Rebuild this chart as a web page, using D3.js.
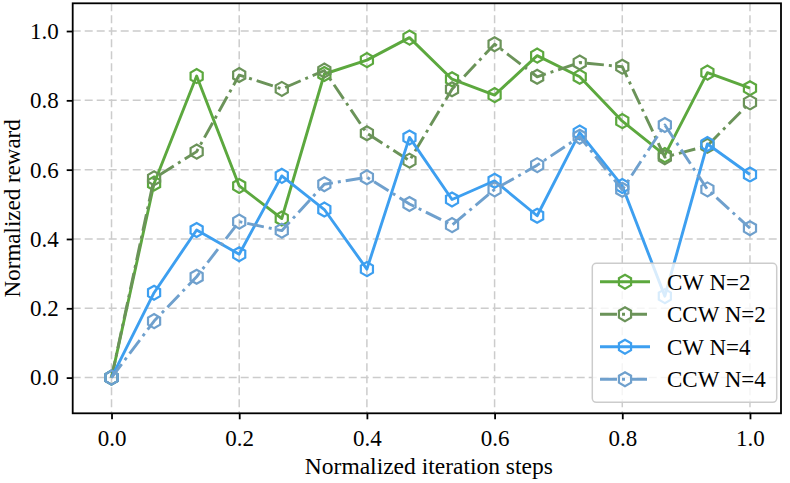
<!DOCTYPE html>
<html>
<head>
<meta charset="utf-8">
<script src="https://cdn.jsdelivr.net/npm/d3@7"></script>
<style>
  body { margin: 0; background: white; }
  text { font-family: "Liberation Serif", "Times New Roman", serif; }
</style>
</head>
<body>
<div id="viz-container"></div>
<script>
// data (16 steps, 0..1)
let steps = d3.range(16).map(function(i){ return i/15; });

let cwN2  = [0, 0.560, 0.870, 0.553, 0.459, 0.876, 0.916, 0.981, 0.861, 0.815, 0.929, 0.868, 0.740, 0.642, 0.880, 0.835];
let ccwN2 = [0, 0.575, 0.652, 0.873, 0.833, 0.886, 0.705, 0.626, 0.832, 0.962, 0.868, 0.909, 0.897, 0.636, 0.669, 0.794];
let cwN4  = [0, 0.245, 0.426, 0.356, 0.582, 0.485, 0.313, 0.693, 0.514, 0.568, 0.467, 0.707, 0.553, 0.235, 0.674, 0.586];
let ccwN4 = [0, 0.163, 0.291, 0.450, 0.424, 0.558, 0.578, 0.501, 0.440, 0.543, 0.613, 0.695, 0.542, 0.729, 0.543, 0.431];

let seriesNames  = ['CW N=2', 'CCW N=2', 'CW N=4', 'CCW N=4'];
let seriesValues = [cwN2, ccwN2, cwN4, ccwN4];
let seriesColors = ['#5ca83e', '#6b9359', '#3d9ff0', '#6fa0cd'];
let seriesDash   = ['none', '17,5,3,5', 'none', '17,5,3,5'];

let xTicks = [0, 0.2, 0.4, 0.6, 0.8, 1.0];
let yTicks = [0, 0.2, 0.4, 0.6, 0.8, 1.0];

let w = 790, h = 483;
let plotLeft = 72.7, plotRight = 781, plotTop = 3.3, plotBottom = 413.3;

let viz = d3.select('#viz-container')
  .append('svg')
    .attr('width', w)
    .attr('height', h)
;

let x = d3.scaleLinear().domain([-0.0608, 1.0486]).range([plotLeft, plotRight]);
let y = d3.scaleLinear().domain([-0.103, 1.08]).range([plotBottom, plotTop]);

// grid
viz.selectAll('.vgrid').data(xTicks).enter()
  .append('line')
    .attr('x1', x).attr('x2', x)
    .attr('y1', plotTop).attr('y2', plotBottom)
    .attr('stroke', '#cccccc')
    .attr('stroke-width', 1.5)
    .attr('stroke-dasharray', '8,4')
;
viz.selectAll('.hgrid').data(yTicks).enter()
  .append('line')
    .attr('x1', plotLeft).attr('x2', plotRight)
    .attr('y1', y).attr('y2', y)
    .attr('stroke', '#cccccc')
    .attr('stroke-width', 1.5)
    .attr('stroke-dasharray', '8,4')
;

// axes
let xAxis = d3.axisBottom(x).tickValues(xTicks).tickFormat(d3.format('.1f')).tickSizeOuter(0).tickSize(6).tickPadding(10);
let yAxis = d3.axisLeft(y).tickValues(yTicks).tickFormat(d3.format('.1f')).tickSizeOuter(0).tickSize(6).tickPadding(8);

let gx = viz.append('g').attr('transform', 'translate(0,' + plotBottom + ')').call(xAxis);
let gy = viz.append('g').attr('transform', 'translate(' + plotLeft + ',0)').call(yAxis);

[gx, gy].forEach(function(g){
  g.select('.domain').remove();
  g.selectAll('.tick line').attr('stroke', 'black').attr('stroke-width', 1.8);
  g.selectAll('.tick text')
    .attr('font-family', '"Liberation Serif", serif')
    .attr('font-size', 23)
    .attr('fill', 'black');
});

// hexagon marker, pointy top
let hexPts = d3.range(6).map(function(k){
  let a = Math.PI/2 + k*Math.PI/3;
  return [7*Math.cos(a), 7*Math.sin(a)];
});
let hexPath = 'M' + hexPts.map(function(p){ return p[0].toFixed(2) + ',' + p[1].toFixed(2); }).join('L') + 'Z';

let line = d3.line()
  .x(function(d, i){ return x(steps[i]); })
  .y(function(d){ return y(d); })
;

seriesValues.forEach(function(vals, s){
  viz.append('path')
    .datum(vals)
    .attr('d', line)
    .attr('fill', 'none')
    .attr('stroke', seriesColors[s])
    .attr('stroke-width', 2.9)
    .attr('stroke-dasharray', seriesDash[s])
    .attr('stroke-linejoin', 'round')
  ;
  viz.selectAll('.m' + s).data(vals).enter()
    .append('path')
      .attr('d', hexPath)
      .attr('transform', function(d, i){ return 'translate(' + x(steps[i]) + ',' + y(d) + ')'; })
      .attr('fill', 'none')
      .attr('stroke', seriesColors[s])
      .attr('stroke-width', 2.2)
  ;
});

// frame
viz.append('rect')
  .attr('x', plotLeft).attr('y', plotTop)
  .attr('width', plotRight - plotLeft).attr('height', plotBottom - plotTop)
  .attr('fill', 'none')
  .attr('stroke', 'black')
  .attr('stroke-width', 1.8)
;

// axis labels
viz.append('text')
  .attr('x', (plotLeft + plotRight)/2 + 2)
  .attr('y', 474)
  .attr('text-anchor', 'middle')
  .attr('font-size', 23.5)
  .text('Normalized iteration steps')
;
viz.append('text')
  .attr('transform', 'translate(20,' + (plotTop + plotBottom)/2 + ') rotate(-90)')
  .attr('text-anchor', 'middle')
  .attr('font-size', 23)
  .text('Normalized reward')
;

// legend
let legend = viz.append('g');
legend.append('rect')
  .attr('x', 592.3).attr('y', 263.3)
  .attr('width', 184.4).attr('height', 139)
  .attr('rx', 4)
  .attr('fill', 'white')
  .attr('fill-opacity', 0.8)
  .attr('stroke', '#cccccc')
  .attr('stroke-width', 1.5)
;
seriesNames.forEach(function(name, s){
  let ly = 281.7 + s*32.5;
  legend.append('line')
    .attr('x1', 600).attr('x2', 650)
    .attr('y1', ly).attr('y2', ly)
    .attr('stroke', seriesColors[s])
    .attr('stroke-width', 2.9)
    .attr('stroke-dasharray', seriesDash[s])
  ;
  legend.append('path')
    .attr('d', hexPath)
    .attr('transform', 'translate(625,' + ly + ')')
    .attr('fill', 'none')
    .attr('stroke', seriesColors[s])
    .attr('stroke-width', 2.2)
  ;
  legend.append('text')
    .attr('x', 667)
    .attr('y', ly + 8)
    .attr('font-size', 23)
    .text(name)
  ;
});
</script>
</body>
</html>
